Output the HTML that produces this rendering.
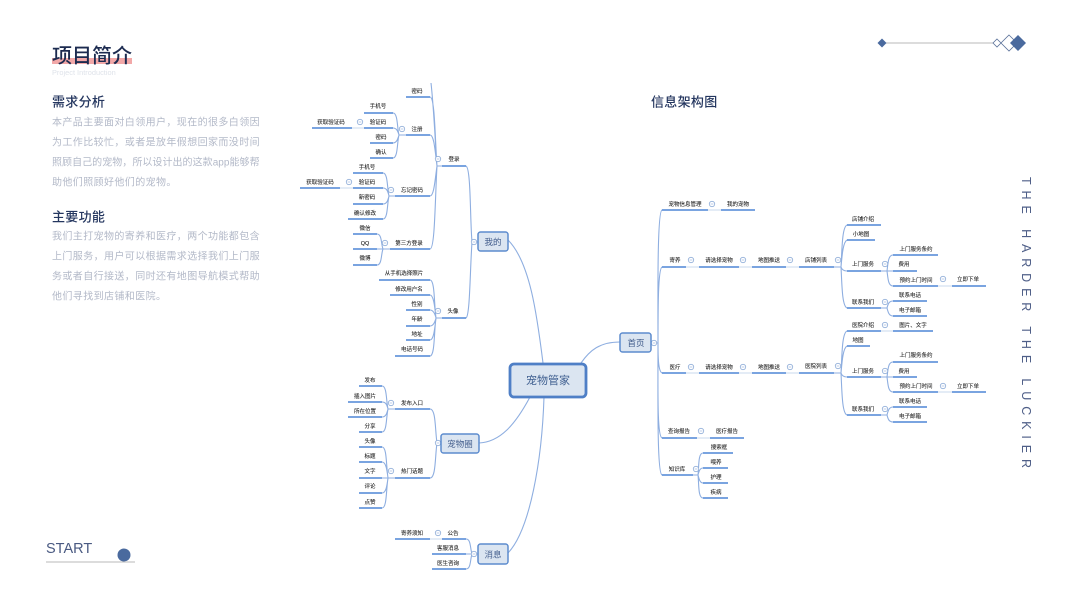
<!DOCTYPE html>
<html lang="zh"><head><meta charset="utf-8"><title>项目简介</title>
<style>
html,body{margin:0;padding:0;background:#fff;width:1067px;height:600px;overflow:hidden}
svg{display:block;font-family:"Liberation Sans","Noto Sans CJK SC",sans-serif}
.n text{font-size:5.500px;fill:#222;stroke:#222;stroke-width:.08px;text-anchor:middle;dominant-baseline:central}
.b text{font-size:10px;fill:#b3b9c8;letter-spacing:.4px;dominant-baseline:central}
.h text{font-size:13px;font-weight:500;fill:#24365f;letter-spacing:.3px;dominant-baseline:central}
.box text{font-size:8.500px;fill:#3f5a8a;text-anchor:middle;dominant-baseline:central}
.box rect{fill:#dbe5f1;stroke:#5d8cce;stroke-width:1.500}
</style></head><body>
<svg width="1067" height="600" viewBox="0 0 1067 600" xmlns="http://www.w3.org/2000/svg">
<defs><g id="c"><circle r="2.700" fill="#fff" stroke="#8fadd8" stroke-width=".8"/><path d="M-1.400 0H1.400" stroke="#8fadd8" stroke-width=".6"/></g>
<clipPath id="cl"><rect x="0" y="83" width="1067" height="517"/></clipPath></defs>

<!-- left copy -->
<rect x="52" y="58" width="80" height="6" fill="#f2a8a8"/>
<text x="52" y="56.500" font-size="20" font-weight="500" fill="#1c2b50" dominant-baseline="central">项目简介</text>
<text x="52" y="72.500" font-size="7.400" fill="#dfe3ea" dominant-baseline="central">Project Introduction</text>
<g class="h" transform="translate(0 1)"><text x="52" y="101">需求分析</text><text x="52" y="216">主要功能</text><text x="651" y="101">信息架构图</text></g>
<g class="b" transform="translate(0 1)">
<text x="52" y="122" textLength="208" lengthAdjust="spacing">本产品主要面对白领用户，现在的很多白领因</text>
<text x="52" y="142" textLength="208" lengthAdjust="spacing">为工作比较忙，或者是放年假想回家而没时间</text>
<text x="52" y="162" textLength="208" lengthAdjust="spacing">照顾自己的宠物，所以设计出的这款app能够帮</text>
<text x="52" y="182">助他们照顾好他们的宠物。</text>
<text x="52" y="236" textLength="208" lengthAdjust="spacing">我们主打宠物的寄养和医疗，两个功能都包含</text>
<text x="52" y="256" textLength="208" lengthAdjust="spacing">上门服务，用户可以根据需求选择我们上门服</text>
<text x="52" y="276" textLength="208" lengthAdjust="spacing">务或者自行接送，同时还有地图导航模式帮助</text>
<text x="52" y="296">他们寻找到店铺和医院。</text>
</g>

<!-- top right ornament -->
<path d="M882 43H994" stroke="#b9b9b9" stroke-width="1"/>
<path d="M882 38.500L886.500 43 882 47.500 877.500 43Z" fill="#4a6a9e"/>
<path d="M997 39L1001 43 997 47 993 43Z" fill="#fff" stroke="#5a7199" stroke-width=".8"/>
<path d="M1009 35L1017 43 1009 51 1001 43Z" fill="#fff" stroke="#5a7199" stroke-width=".8"/>
<path d="M1018 35L1026 43 1018 51 1010 43Z" fill="#4a6a9e"/>

<!-- start -->
<text x="46" y="549" font-size="14.500" fill="#4a5a82" dominant-baseline="central">START</text>
<path d="M46 562H135" stroke="#b9b9b9" stroke-width="1"/>
<circle cx="124" cy="555" r="6.500" fill="#4a6a9e"/>

<!-- vertical -->
<text transform="translate(1022 177) rotate(90)" font-size="12.500" fill="#4f5f88" textLength="291" lengthAdjust="spacing">THE HARDER THE LUCKIER</text>

<!-- connectors -->
<g fill="none" stroke="#8eaee0" stroke-width="1.100" clip-path="url(#cl)">
<path d="M543 363C537 315 530 262 508 240M581 363C590 350 600 342 620 342M530 397C515 425 500 442 479 443M544 397C542 460 530 530 508 553"/>
<path d="M466 166C471 168 470 220 472 242L478 242M466 318C470 316 470 270 472 242"/>
<path d="M430 97C435 97 435 140 437 166M430 135C434 135 435 150 437 166M430 196C434 196 435 180 437 166M430 249C435 249 435 200 437 166M431 83C434 110 435 140 437 166L442 166"/>
<path d="M393 113C398 113 397 128 399 135L406 135M393 128C397 128 398 132 399 135M393 143C397 143 398 138 399 135M393 158C398 158 397 142 399 135"/>
<path d="M383 173C388 173 387 188 389 196L395 196M383 188C387 188 388 192 389 196M383 204C387 204 388 200 389 196M383 219C388 219 387 204 389 196"/>
<path d="M377 234C382 234 381 244 383 249L390 249M377 249H383M377 265C382 265 381 254 383 249"/>
<path d="M430 280C435 280 434 305 436 318L442 318M430 295C434 295 435 310 436 318M430 310C433 310 435 314 436 318M430 326C433 326 435 322 436 318M430 340C434 340 435 326 436 318M430 356C435 356 434 330 436 318"/>
<path d="M382 386C387 386 386 400 388 409L395 409M382 402C386 402 387 405 388 409M382 417C386 417 387 413 388 409M382 432C387 432 386 418 388 409"/>
<path d="M382 447C387 447 386 465 388 478L395 478M382 462C386 462 387 470 388 478M382 478H388M382 493C386 493 387 486 388 478M382 508C387 508 386 490 388 478"/>
<path d="M430 409C436 409 435 430 437 443L441 443M430 478C436 478 435 456 437 443"/>
<path d="M466 539C471 539 470 548 472 554L478 554M466 554H478M466 569C471 569 470 560 472 554"/>
<path d="M662 210C657 212 658 300 658 343L651 343M662 267C658 269 658 310 658 343M662 373C658 371 658 355 658 343M662 438C657 436 658 390 658 343M662 475C657 473 658 400 658 343"/>
<path d="M847 225C842 227 842 250 841 267L834 267M847 240C843 242 842 256 841 267M847 271C844 271 842 270 841 267M847 308C842 306 842 285 841 267"/>
<path d="M893 255C888 255 888 264 887 271L881 271M893 271H881M893 286C888 286 888 278 887 271"/>
<path d="M893 301C889 301 888 304 887 308L881 308M893 316C889 316 888 312 887 308"/>
<path d="M847 331C842 333 842 355 841 373L834 373M847 346C843 348 842 362 841 373M847 377C844 377 842 376 841 373M847 415C842 413 842 392 841 373"/>
<path d="M893 362C888 362 888 370 887 377L881 377M893 377H881M893 392C888 392 888 384 887 377"/>
<path d="M893 407C889 407 888 411 887 415L881 415M893 422C889 422 888 419 887 415"/>
<path d="M703 453C698 453 699 467 698 475L693 475M703 468C700 468 699 471 698 475M703 483C700 483 699 479 698 475M703 498C698 498 699 484 698 475"/>
</g>
<path stroke="#c9d8ec" stroke-width="1" fill="none" d="M352 128H364M340 188H353M430 539H442M708 210H721M686 267H699M739 267H752M786 267H799M686 373H699M739 373H752M786 373H799M697 438H710M881 331H893M938 286H952M938 392H952"/>

<!-- underlines -->
<path fill="none" stroke="#4f86d6" stroke-width="1.600" d="M406 97H430M406 135H430M364 113H393M364 128H393M312 128H352M370 143H393M370 158H393M442 166H466M395 196H430M353 173H383M353 188H383M300 188H340M353 204H383M348 219H383M390 249H430M353 234H377M353 249H377M353 265H377M442 318H466M379 280H430M390 295H430M406 310H430M406 326H430M406 340H430M395 356H430M395 409H430M359 386H382M348 402H382M348 417H382M359 432H382M359 447H382M359 462H382M359 478H382M359 493H382M359 508H382M395 478H430M395 539H430M442 539H466M432 554H466M432 569H466M662 210H708M721 210H755M662 267H686M699 267H739M752 267H786M799 267H834M847 225H881M847 240H875M847 271H881M893 255H938M893 271H917M893 286H938M952 286H986M847 308H881M893 301H927M893 316H927M847 331H881M893 331H933M847 346H870M847 377H881M893 362H938M893 377H917M893 392H938M952 392H986M847 415H881M893 407H927M893 422H927M662 373H686M699 373H739M752 373H786M799 373H834M662 438H697M710 438H744M662 475H693M703 453H733M703 468H728M703 483H728M703 498H728"/>

<!-- toggle circles -->
<use href="#c" x="402" y="129"/><use href="#c" x="360" y="122"/><use href="#c" x="438" y="159"/><use href="#c" x="391" y="190"/><use href="#c" x="349" y="182"/><use href="#c" x="385" y="243"/><use href="#c" x="474" y="242"/><use href="#c" x="438" y="311"/><use href="#c" x="391" y="403"/><use href="#c" x="391" y="471"/><use href="#c" x="438" y="443"/><use href="#c" x="438" y="533"/><use href="#c" x="474" y="554"/><use href="#c" x="654" y="343"/><use href="#c" x="712" y="204"/><use href="#c" x="691" y="260"/><use href="#c" x="743" y="260"/><use href="#c" x="790" y="260"/><use href="#c" x="838" y="260"/><use href="#c" x="885" y="264"/><use href="#c" x="943" y="279"/><use href="#c" x="885" y="302"/><use href="#c" x="885" y="325"/><use href="#c" x="885" y="371"/><use href="#c" x="943" y="386"/><use href="#c" x="885" y="409"/><use href="#c" x="838" y="366"/><use href="#c" x="691" y="367"/><use href="#c" x="743" y="367"/><use href="#c" x="790" y="367"/><use href="#c" x="701" y="431"/><use href="#c" x="696" y="469"/>

<!-- boxes -->
<g class="box">
<rect x="478" y="232" width="30" height="19" rx="2.500"/><text x="493" y="242">我的</text>
<rect x="441" y="434" width="38" height="19" rx="2.500"/><text x="460" y="444">宠物圈</text>
<rect x="478" y="544" width="30" height="20" rx="2.500"/><text x="493" y="554.500">消息</text>
<rect x="620" y="333" width="31" height="19" rx="2.500"/><text x="636" y="343">首页</text>
</g>
<rect x="510" y="364" width="76" height="33" rx="4" fill="#dbe5f1" stroke="#4f7fc6" stroke-width="2.800"/>
<text x="548" y="381" font-size="11" fill="#3f5f90" text-anchor="middle" dominant-baseline="central">宠物管家</text>

<!-- labels -->
<g class="n" transform="translate(0 1)">
<text x="417" y="91">密码</text><text x="417" y="129">注册</text><text x="378" y="106">手机号</text><text x="378" y="122">验证码</text><text x="331" y="122">获取验证码</text><text x="381" y="137">密码</text><text x="381" y="152">确认</text>
<text x="454" y="159">登录</text><text x="412" y="190">忘记密码</text><text x="367" y="167">手机号</text><text x="367" y="182">验证码</text><text x="320" y="182">获取验证码</text><text x="367" y="197">新密码</text><text x="365" y="213">确认修改</text>
<text x="409" y="243">第三方登录</text><text x="365" y="228">微信</text><text x="365" y="243">QQ</text><text x="365" y="258">微博</text>
<text x="453" y="311">头像</text><text x="404" y="273">从手机选择照片</text><text x="409" y="289">修改用户名</text><text x="417" y="304">性别</text><text x="417" y="319">年龄</text><text x="417" y="334">地址</text><text x="412" y="349">电话号码</text>
<text x="412" y="403">发布入口</text><text x="370" y="380">发布</text><text x="365" y="396">插入图片</text><text x="365" y="411">所在位置</text><text x="370" y="426">分享</text>
<text x="412" y="471">热门话题</text><text x="370" y="441">头像</text><text x="370" y="456">标题</text><text x="370" y="471">文字</text><text x="370" y="486">评论</text><text x="370" y="502">点赞</text>
<text x="412" y="533">寄养须知</text><text x="453" y="533">公告</text><text x="448" y="548">客服消息</text><text x="448" y="563">医生咨询</text>
<text x="685" y="204">宠物信息管理</text><text x="738" y="204">我的宠物</text>
<text x="675" y="260">寄养</text><text x="719" y="260">请选择宠物</text><text x="769" y="260">地图推送</text><text x="816" y="260">店铺列表</text>
<text x="863" y="219">店铺介绍</text><text x="861" y="234">小地图</text><text x="863" y="264">上门服务</text><text x="916" y="249">上门服务条约</text><text x="904" y="264">费用</text><text x="916" y="280">预约上门时间</text><text x="968" y="279">立即下单</text>
<text x="863" y="302">联系我们</text><text x="910" y="295">联系电话</text><text x="910" y="310">电子邮箱</text>
<text x="675" y="367">医疗</text><text x="719" y="367">请选择宠物</text><text x="769" y="367">地图推送</text><text x="816" y="366">医院列表</text>
<text x="863" y="325">医院介绍</text><text x="913" y="325">图片、文字</text><text x="858" y="340">地图</text><text x="863" y="371">上门服务</text><text x="916" y="355">上门服务条约</text><text x="904" y="371">费用</text><text x="916" y="386">预约上门时间</text><text x="968" y="386">立即下单</text>
<text x="863" y="409">联系我们</text><text x="910" y="401">联系电话</text><text x="910" y="416">电子邮箱</text>
<text x="679" y="431">查询报告</text><text x="727" y="431">医疗报告</text><text x="677" y="469">知识库</text><text x="719" y="447">搜索框</text><text x="716" y="462">喂养</text><text x="716" y="477">护理</text><text x="716" y="492">疾病</text>
</g>
</svg>
</body></html>
